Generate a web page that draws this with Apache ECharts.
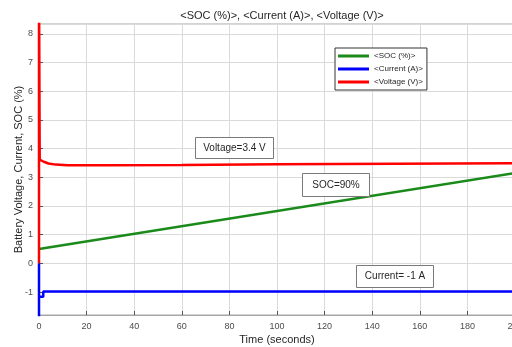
<!DOCTYPE html>
<html>
<head>
<meta charset="utf-8">
<script src="https://cdn.jsdelivr.net/npm/echarts@6/dist/echarts.min.js"></script>
<style>
  html, body { margin: 0; padding: 0; background: #fff; }
  #chart { width: 512px; height: 347px; }
</style>
</head>
<body>
<div id="chart"></div>
<script>
// data: [time (s), value]
const socData = [[0, 0.5], [200, 3.15]]
const currentData = [[0, 0], [0, -3], [0, -1.16], [1.8, -1.16], [1.8, -0.98], [200, -0.98]]
const voltageData = [
  [0, 0], [0, 10], [0.3, 3.61], [2, 3.54], [4, 3.48], [7, 3.44], [12, 3.42],
  [30, 3.42], [60, 3.43], [100, 3.45], [150, 3.47], [200, 3.49]
]
const seriesNames = ['<SOC (%)>', '<Current (A)>', '<Voltage (V)>']
const seriesColors = ['#1a8a1a', '#0000ff', '#ff0000']

const chart = echarts.init(document.getElementById('chart'))

// annotation boxes
const note = (x, y, w, h, text) => ({
  type: 'group',
  left: x,
  top: y,
  z: 100,
  children: [
    { type: 'rect', z: 100, shape: { x: 0, y: 0, width: w, height: h },
      style: { fill: '#fff', stroke: '#7a7a7a', lineWidth: 1 } },
    { type: 'text', z: 101, x: w / 2, y: h / 2,
      style: { text: text, fill: '#262626', font: '10px "Liberation Sans", Arial',
        align: 'center', verticalAlign: 'middle' } }
  ]
})

const axisText = { color: '#4d4d4d', fontSize: 9, fontFamily: 'Liberation Sans' }

const option = {
  backgroundColor: '#fff',
  animation: false,
  title: {
    text: '<SOC (%)>, <Current (A)>, <Voltage (V)>',
    left: 277,
    textAlign: 'center',
    top: 5,
    textStyle: { fontSize: 11, fontWeight: 'normal', color: '#262626', fontFamily: 'Liberation Sans' }
  },
  grid: {
    left: 39, right: -3, top: 24, bottom: 32,
    containLabel: false,
    outerBoundsMode: 'none',
    show: true, borderColor: '#a6a6a6', borderWidth: 1
  },
  legend: {
    orient: 'vertical',
    left: 335,
    top: 48,
    data: seriesNames,
    icon: 'rect',
    itemWidth: 31,
    itemHeight: 3,
    itemGap: 3,
    padding: [3, 4, 3, 3],
    borderColor: '#333',
    borderWidth: 1,
    backgroundColor: '#fff',
    textStyle: { fontSize: 8, color: '#262626', fontFamily: 'Liberation Sans', lineHeight: 10 }
  },
  xAxis: {
    type: 'value',
    min: 0,
    max: 200,
    interval: 20,
    name: 'Time (seconds)',
    nameLocation: 'middle',
    nameGap: 19,
    nameMoveOverlap: false,
    nameTextStyle: { fontSize: 11, color: '#262626', fontFamily: 'Liberation Sans' },
    axisLine: { show: true, onZero: false, lineStyle: { color: '#a6a6a6' } },
    axisTick: { show: true, inside: true, length: 4, lineStyle: { color: '#555' } },
    axisLabel: Object.assign({ margin: 7 }, axisText),
    splitLine: { show: true, lineStyle: { color: '#dadada' } }
  },
  yAxis: {
    type: 'value',
    min: -1.8,
    max: 8.34,
    splitNumber: 10,
    name: 'Battery Voltage, Current, SOC (%)',
    nameLocation: 'middle',
    nameGap: 15,
    nameMoveOverlap: false,
    nameTextStyle: { fontSize: 11, color: '#262626', fontFamily: 'Liberation Sans' },
    axisLine: { show: true, onZero: false, lineStyle: { color: '#a6a6a6' } },
    axisTick: { show: true, inside: true, length: 4, lineStyle: { color: '#555' } },
    axisLabel: Object.assign({ margin: 6, showMinLabel: false, showMaxLabel: false }, axisText),
    splitLine: { show: true, lineStyle: { color: '#dadada' } }
  },
  series: [
    { name: seriesNames[0], type: 'line', data: socData, showSymbol: false,
      lineStyle: { width: 2.5, color: seriesColors[0] }, itemStyle: { color: seriesColors[0] } },
    { name: seriesNames[1], type: 'line', data: currentData, showSymbol: false,
      lineStyle: { width: 2.5, color: seriesColors[1] }, itemStyle: { color: seriesColors[1] } },
    { name: seriesNames[2], type: 'line', data: voltageData, showSymbol: false,
      lineStyle: { width: 2.5, color: seriesColors[2] }, itemStyle: { color: seriesColors[2] } }
  ],
  graphic: [
    note(195, 137, 78, 21, 'Voltage=3.4 V'),
    note(302, 173, 67, 23, 'SOC=90%'),
    note(356, 265, 77, 22, 'Current= -1 A')
  ]
}

chart.setOption(option)
</script>
</body>
</html>
